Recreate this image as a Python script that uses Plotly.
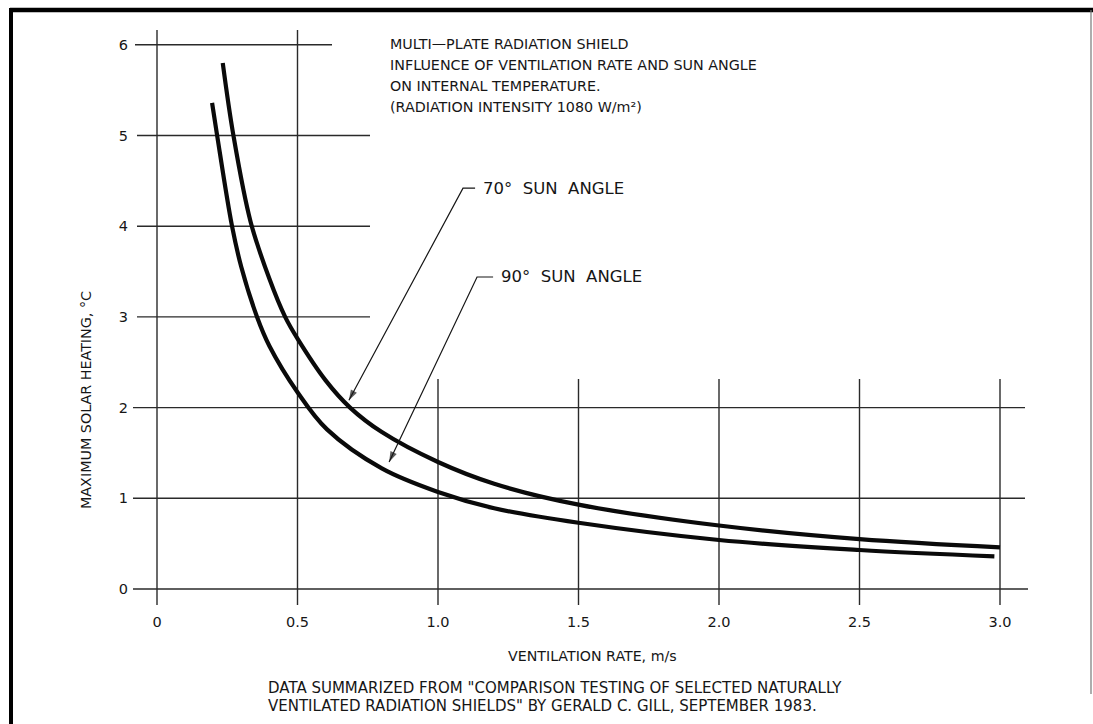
import plotly.graph_objects as go

# ---- data ----
x_70 = [0.234, 0.272, 0.333, 0.40, 0.456, 0.50, 0.60, 0.687, 0.80, 1.00, 1.20, 1.50, 2.00, 2.50, 3.00]
y_70 = [5.80, 5.00, 4.05, 3.42, 3.00, 2.76, 2.30, 2.00, 1.73, 1.40, 1.16, 0.93, 0.70, 0.55, 0.46]
x_90 = [0.196, 0.214, 0.267, 0.30, 0.356, 0.40, 0.50, 0.605, 0.80, 1.00, 1.20, 1.50, 2.00, 2.50, 2.98]
y_90 = [5.36, 5.00, 4.00, 3.55, 3.00, 2.68, 2.17, 1.76, 1.33, 1.07, 0.89, 0.73, 0.54, 0.43, 0.36]

x_ticks = [0, 0.5, 1.0, 1.5, 2.0, 2.5, 3.0]
x_tick_text = ["0", "0.5", "1.0", "1.5", "2.0", "2.5", "3.0"]
y_ticks = [0, 1, 2, 3, 4, 5, 6]
y_tick_text = ["0", "1", "2", "3", "4", "5", "6"]

title_lines = [
    "MULTI\u2014PLATE RADIATION SHIELD",
    "INFLUENCE OF VENTILATION RATE AND SUN ANGLE",
    "ON INTERNAL TEMPERATURE.",
    "(RADIATION INTENSITY 1080 W/m\u00b2)",
]
x_title = "VENTILATION RATE, m/s"
y_title = "MAXIMUM SOLAR HEATING, \u00b0C"
note_lines = [
    'DATA SUMMARIZED FROM "COMPARISON TESTING OF SELECTED NATURALLY',
    'VENTILATED RADIATION SHIELDS" BY GERALD C. GILL, SEPTEMBER 1983.',
]
label_70 = "70\u00b0  SUN  ANGLE"
label_90 = "90\u00b0  SUN  ANGLE"
# callout leaders (data units): label end, bend, arrow tip
callout_70 = dict(x=[1.132, 1.089, 0.683], y=[4.42, 4.42, 2.08])
callout_90 = dict(x=[1.196, 1.139, 0.826], y=[3.44, 3.44, 1.40])

# ---- geometry ----
W, H = 1093, 724
PX_X = 281.0   # pixels per x unit
PX_Y = 90.7    # pixels per y unit
X0_PX, Y0_PX = 157, 589
xr = [-X0_PX / PX_X, -X0_PX / PX_X + W / PX_X]
yr = [Y0_PX / PX_Y - H / PX_Y, Y0_PX / PX_Y]


def dx(px):
    return (px - X0_PX) / PX_X


def dy(py):
    return (Y0_PX - py) / PX_Y


FONT = "DejaVu Sans, Liberation Sans, sans-serif"
INK = "#161616"
GRID = "#2a2a2a"

fig = go.Figure()
for xs, ys in [(x_90, y_90), (x_70, y_70)]:
    fig.add_trace(go.Scatter(x=xs, y=ys, mode="lines",
                             line=dict(color="#0a0a0a", width=4.2, shape="spline", smoothing=1.0),
                             hoverinfo="skip", showlegend=False))
for c in (callout_70, callout_90):
    fig.add_trace(go.Scatter(x=c["x"], y=c["y"], mode="lines+markers",
                             line=dict(color=INK, width=1.2),
                             marker=dict(symbol="arrow", angleref="previous", size=[0, 0, 11], color=INK,
                                         line=dict(width=0)),
                             hoverinfo="skip", showlegend=False))

shapes = []
# horizontal grid lines (partial, as in the drawing)
h_extent = {6: (dx(135), dx(332)), 5: (dx(137), dx(370)), 4: (dx(137), dx(370)), 3: (dx(137), dx(370)),
            2: (dx(133), dx(1025)), 1: (dx(133), dx(1025)), 0: (dx(133), dx(1028))}
for yv in y_ticks:
    a, b = h_extent[yv]
    shapes.append(dict(type="line", xref="x", yref="y", x0=a, x1=b, y0=yv, y1=yv,
                       line=dict(color=GRID, width=1.4), layer="below"))
# vertical grid lines
for xv in x_ticks:
    top = dy(30) if xv <= 0.5 else dy(379)
    shapes.append(dict(type="line", xref="x", yref="y", x0=xv, x1=xv, y0=dy(605), y1=top,
                       line=dict(color=GRID, width=1.4), layer="below"))

# frame of the drawing sheet
shapes.append(dict(type="line", xref="paper", yref="paper", x0=10 / W, x1=1.0, y0=1 - 10 / H, y1=1 - 10 / H,
                   line=dict(color="#000", width=4.5)))
shapes.append(dict(type="line", xref="paper", yref="paper", x0=11 / W, x1=11 / W, y0=0, y1=1 - 8 / H,
                   line=dict(color="#000", width=4)))
shapes.append(dict(type="line", xref="paper", yref="paper", x0=1091 / W, x1=1091 / W, y0=30 / H, y1=1 - 10 / H,
                   line=dict(color="#777", width=1.2)))

annotations = []
annotations.append(dict(x=callout_70["x"][0] + 0.02, y=callout_70["y"][0], xref="x", yref="y", text=label_70,
                        showarrow=False, xanchor="left", yanchor="middle",
                        font=dict(family=FONT, size=16.5, color=INK)))
annotations.append(dict(x=callout_90["x"][0] + 0.02, y=callout_90["y"][0], xref="x", yref="y", text=label_90,
                        showarrow=False, xanchor="left", yanchor="middle",
                        font=dict(family=FONT, size=16.5, color=INK)))

# title block
title_y = [44, 65, 86, 107]
for t, py in zip(title_lines, title_y):
    annotations.append(dict(x=dx(388), y=dy(py), xref="x", yref="y", text=t, showarrow=False,
                            xanchor="left", yanchor="middle", font=dict(family=FONT, size=14.3, color=INK)))

# axis titles
annotations.append(dict(x=dx(592), y=dy(656), xref="x", yref="y", text=x_title, showarrow=False,
                        xanchor="center", yanchor="middle", font=dict(family=FONT, size=14.2, color=INK)))
annotations.append(dict(x=dx(86), y=dy(400), xref="x", yref="y", text=y_title, showarrow=False, textangle=-90,
                        xanchor="center", yanchor="middle", font=dict(family=FONT, size=14.3, color=INK)))
# source note
for t, py in zip(note_lines, [688, 706]):
    annotations.append(dict(x=dx(266), y=dy(py), xref="x", yref="y", text=t, showarrow=False,
                            xanchor="left", yanchor="middle", font=dict(family=FONT, size=15, color=INK)))

fig.update_layout(
    width=W, height=H,
    margin=dict(l=0, r=0, t=0, b=0),
    paper_bgcolor="white", plot_bgcolor="white",
    showlegend=False,
    shapes=shapes, annotations=annotations,
    xaxis=dict(range=xr, showgrid=False, zeroline=False, showline=False, anchor="free", position=(724 - 605) / H,
               tickmode="array", tickvals=x_ticks, ticktext=x_tick_text, ticks="", ticklabelstandoff=6,
               tickfont=dict(family=FONT, size=14.5, color=INK), fixedrange=True),
    yaxis=dict(range=yr, showgrid=False, zeroline=False, showline=False, anchor="free", position=133 / W,
               tickmode="array", tickvals=y_ticks, ticktext=y_tick_text, ticks="", ticklabelstandoff=5,
               tickfont=dict(family=FONT, size=14.5, color=INK), fixedrange=True),
)

fig.write_html("out.html", config={"displayModeBar": False},
               post_script="document.body.style.margin='0';document.body.style.overflow='hidden';")
